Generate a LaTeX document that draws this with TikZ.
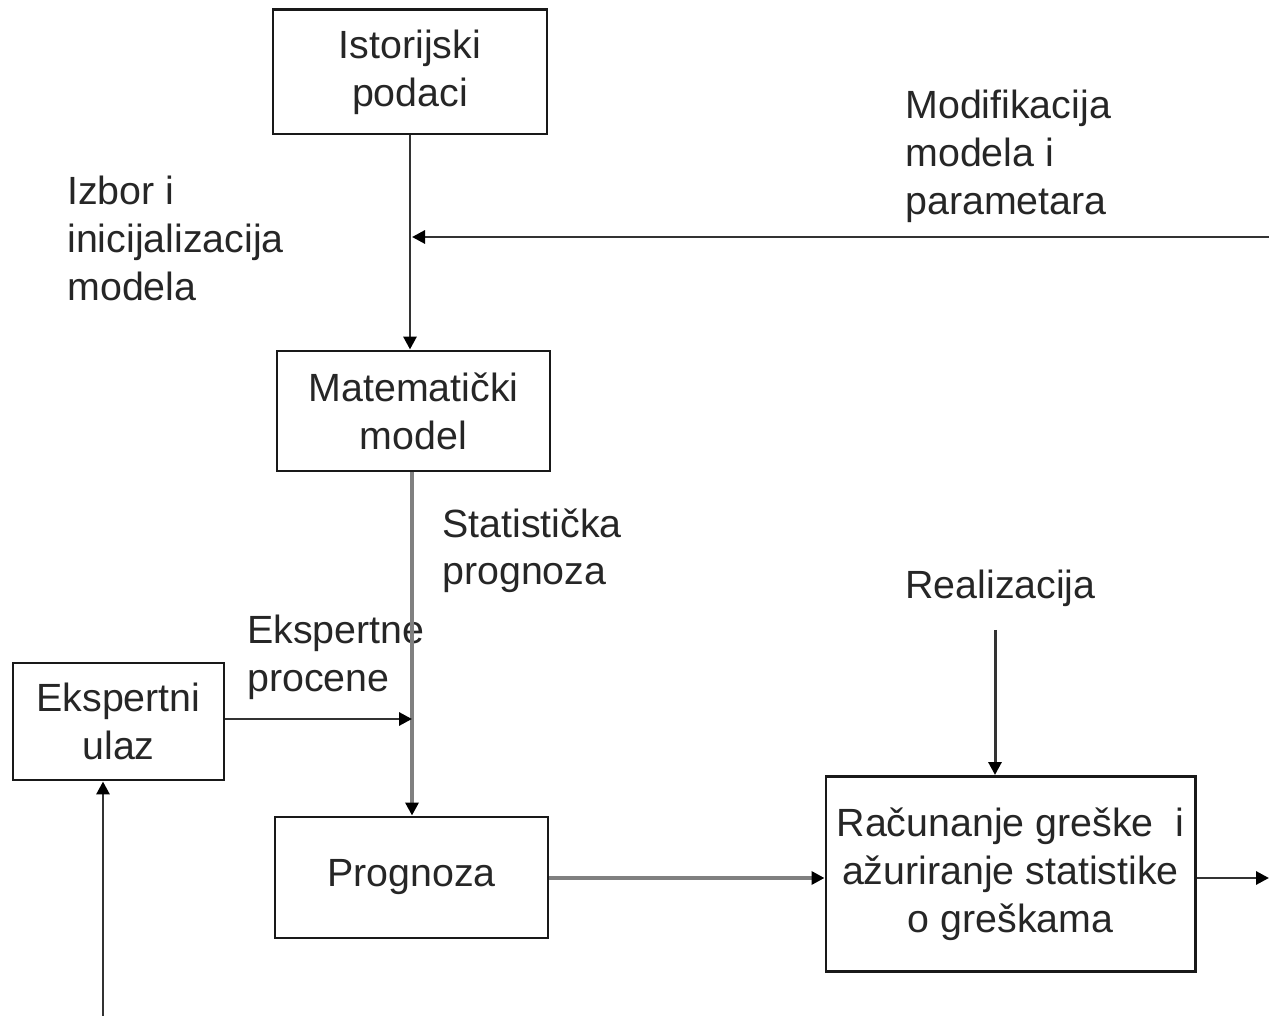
\documentclass[tikz,border=0pt]{standalone}
\usepackage{fontspec}
\setmainfont{Liberation Sans}
\usetikzlibrary{arrows.meta}

\begin{document}
\begin{tikzpicture}[x = 0.02cm, y = -0.02cm,
		font = \fontsize{22.4}{27.3}\selectfont,
		box/.style = {draw = black!90, line width = 1.7pt, align = center, text = black!85, inner sep = 0pt},
		lbl/.style = {anchor = north west, align = left, inner sep = 0pt, text = black!85},
		flow/.style = {draw = black!80, line width = 1.7pt, -{Triangle[length = 0.26cm, width = 0.26cm, color = black]}},
		gflow/.style = {flow, draw = black!50, line width = 2.2pt}]
	\def\lineX{412};
	\def\feedY{237};
	\def\predY{878};

	\useasboundingbox (0,0) rectangle (1269,1016);

	\begin{scope}
		\node [box, minimum width = 274*0.02cm, minimum height = 124*0.02cm] (istorijski) at (410,72) {Istorijski\\podaci};
		\node [box, minimum width = 273*0.02cm, minimum height = 120*0.02cm] (model) at (413.5,411) {Matematički\\model};
		\node [box, minimum width = 211*0.02cm, minimum height = 117*0.02cm] (ekspertni) at (118.5,721.5) {Ekspertni\\ulaz};
		\node [box, minimum width = 273*0.02cm, minimum height = 121*0.02cm] (prognoza) at (411.5,877.5) {Prognoza};
		\node [box, minimum width = 369*0.02cm, minimum height = 195*0.02cm] (racunanje) at (1010.5,874) {Računanje greške\ \ i\\ažuriranje statistike\\o greškama};
	\end{scope}

	\begin{scope}
		\node [lbl] (izbor) at (67,176) {Izbor i\\inicijalizacija\\modela};
		\node [lbl] (modifikacija) at (905,90) {Modifikacija\\modela i\\parametara};
		\node [lbl] (statisticka) at (442,508) {Statistička\\prognoza};
		\node [lbl] (procene) at (247,615) {Ekspertne\\procene};
		\node [lbl] (realizacija) at (905,570) {Realizacija};
	\end{scope}

	\coordinate (feedin) at (1269,\feedY);
	\coordinate (feedout) at (\lineX,\feedY);
	\coordinate (joint) at (\lineX,719);
	\coordinate (realtop) at (995,630);
	\coordinate (outend) at (1269,\predY);
	\coordinate (bottom) at (103,1016);

	\begin{scope}
		\draw [flow] (istorijski.south) -- (istorijski.south |- model.north);
		\draw [flow] (feedin) -- (feedout);
		\draw [gflow] (model.south -| joint) -- (prognoza.north -| joint);
		\draw [flow] (ekspertni.east |- joint) -- (joint);
		\draw [flow] (realtop) -- (realtop |- racunanje.north);
		\draw [gflow] (prognoza.east |- 0,\predY) -- (racunanje.west |- 0,\predY);
		\draw [flow] (racunanje.east |- 0,\predY) -- (outend);
		\draw [flow] (bottom) -- (bottom |- ekspertni.south);
	\end{scope}
\end{tikzpicture}
\end{document}
